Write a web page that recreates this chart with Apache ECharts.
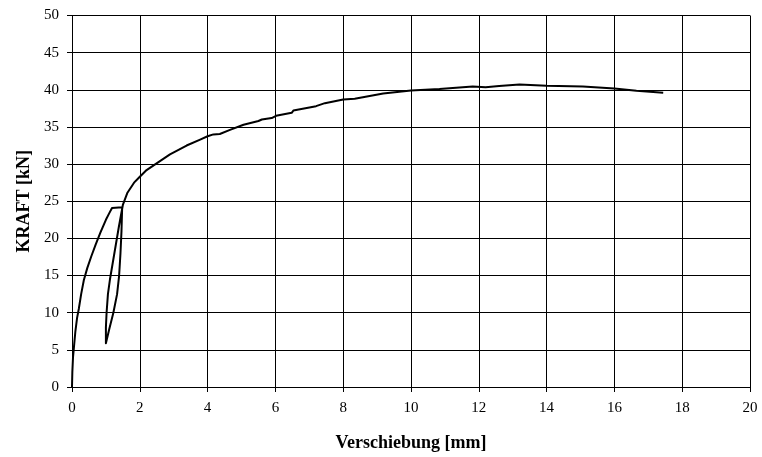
<!DOCTYPE html>
<html>
<head>
<meta charset="utf-8">
<script src="https://cdn.jsdelivr.net/npm/echarts@6/dist/echarts.min.js"></script>
<style>html,body{margin:0;padding:0;background:#fff;}#c{width:762px;height:457px;}</style>
</head>
<body>
<div id="c"></div>
<script>
// Displacement [mm]
var verschiebung = [0, 0.01, 0.03, 0.06, 0.1, 0.15, 0.2, 0.27, 0.35, 0.45, 0.57, 0.7, 0.84, 1.0, 1.1, 1.18, 1.48,
  1.46, 1.43, 1.39, 1.33, 1.22, 1.1, 1.0,
  1.0, 1.02, 1.06, 1.12, 1.25, 1.38, 1.5, 1.63, 1.83, 2.0, 2.2, 2.43, 2.89, 3.38, 3.78, 4.0, 4.17, 4.36,
  4.66, 5.06, 5.5, 5.6, 5.89, 6.02, 6.48, 6.53, 7.2, 7.46, 8.0, 8.34, 9.18, 10.0,
  10.84, 11.82, 12.2, 12.6, 13.2, 14.0, 15.07, 16.0, 16.65, 17.44];
// Force [kN]
var kraft = [0, 2, 4, 5.5, 7.5, 9.3, 10.5, 12.5, 14.4, 16, 17.6, 19.2, 20.8, 22.5, 23.4, 24.1, 24.2,
  21, 18, 15, 12.5, 10, 7.8, 5.9,
  8, 10, 12.5, 14.5, 18, 21.5, 24.5, 26.1, 27.5, 28.3, 29.2, 29.9, 31.3, 32.5, 33.3, 33.75, 34.0, 34.05,
  34.6, 35.3, 35.8, 36.0, 36.2, 36.5, 36.9, 37.2, 37.8, 38.2, 38.7, 38.8, 39.5, 39.9,
  40.1, 40.45, 40.35, 40.5, 40.7, 40.54, 40.45, 40.18, 39.87, 39.6];
var xTicks = [0, 2, 4, 6, 8, 10, 12, 14, 16, 18, 20];
var yTicks = [0, 5, 10, 15, 20, 25, 30, 35, 40, 45, 50];

var data = verschiebung.map(function (x, i) { return [x, kraft[i]]; });
var chart = echarts.init(document.getElementById('c'), null, {renderer: 'canvas'});
var font = '"Liberation Serif", "Times New Roman", serif';
chart.setOption({
  animation: false,
  backgroundColor: '#fff',
  grid: {left: 72, right: 12, top: 15.5, bottom: 70, containLabel: false},
  xAxis: {
    type: 'value', min: xTicks[0], max: xTicks[xTicks.length - 1], interval: 2,
    name: 'Verschiebung [mm]', nameLocation: 'middle', nameGap: 47,
    nameTextStyle: {fontFamily: font, fontSize: 18, fontWeight: 'bold', color: '#000'},
    axisLine: {lineStyle: {color: '#000', width: 1}},
    axisTick: {show: true, inside: false, length: 5, lineStyle: {color: '#000'}},
    axisLabel: {fontFamily: font, fontSize: 15, color: '#000', margin: 14},
    splitLine: {show: true, lineStyle: {color: '#000', width: 1}}
  },
  yAxis: {
    type: 'value', min: yTicks[0], max: yTicks[yTicks.length - 1], interval: 5,
    name: 'KRAFT [kN]', nameLocation: 'middle', nameGap: 39, nameRotate: 90,
    nameTextStyle: {fontFamily: font, fontSize: 18, fontWeight: 'bold', color: '#000'},
    axisLine: {show: true, lineStyle: {color: '#000', width: 1}},
    axisTick: {show: true, inside: false, length: 5, lineStyle: {color: '#000'}},
    axisLabel: {fontFamily: font, fontSize: 15, color: '#000', margin: 13},
    splitLine: {show: true, lineStyle: {color: '#000', width: 1}}
  },
  series: [{
    type: 'line', data: data, showSymbol: false, smooth: false,
    lineStyle: {color: '#000', width: 2, join: 'round'}
  }]
});
</script>
</body>
</html>
